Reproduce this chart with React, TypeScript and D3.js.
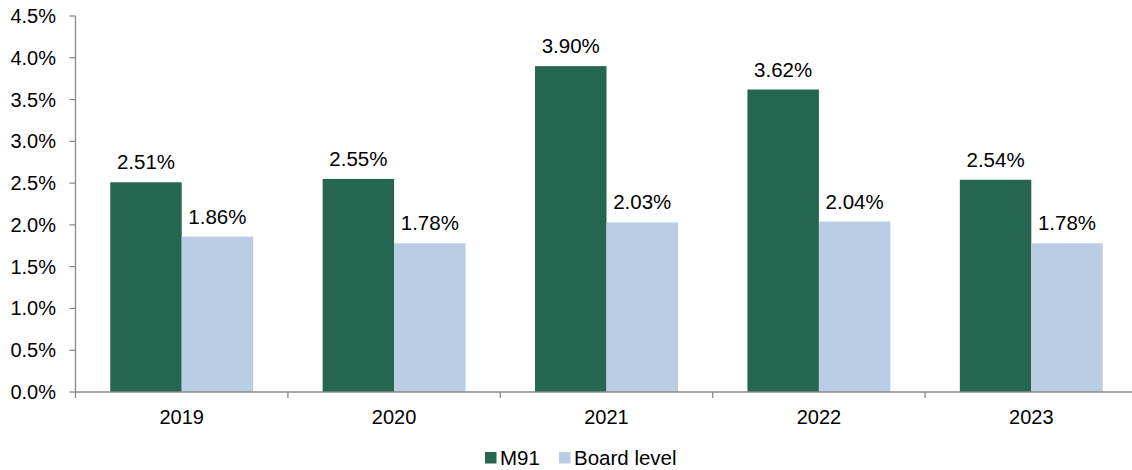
import React from "react";
import * as d3 from "d3";

const categories = ["2019", "2020", "2021", "2022", "2023"];
const m91 = [2.51, 2.55, 3.9, 3.62, 2.54];
const boardLevel = [1.86, 1.78, 2.03, 2.04, 1.78];
const yTicks = [0, 0.5, 1, 1.5, 2, 2.5, 3, 3.5, 4, 4.5];
const seriesNames = ["M91", "Board level"];
const colors = ["#256650", "#B9CDE4"];

const W = 1132;
const H = 470;
const left = 75.5;
const right = 1137.5;
const top = 16;
const bottom = 392;
const font = "Arial, 'Liberation Sans', sans-serif";

export default function App() {
  const x0 = d3.scaleBand<string>().domain(categories).range([left, right]);
  const y = d3.scaleLinear().domain([0, 4.5]).range([bottom, top]);
  const series = [m91, boardLevel];
  const axisColor = "#898989";
  const fsAxis = 20;
  const fsLab = 20.5;

  return (
    <svg width={W} height={H} style={{ position: "absolute", left: 0, top: 0 }} fontFamily={font}>
      <rect x={0} y={0} width={W} height={H} fill="#fff" />
      {categories.map((c, i) =>
        series.map((s, j) => {
          const bw = x0.bandwidth() * 0.3365;
          const bx = x0(c)! + x0.bandwidth() * 0.1635 + j * bw;
          return (
            <g key={c + j}>
              <rect x={bx} y={y(s[i])} width={bw} height={bottom - y(s[i])} fill={colors[j]} />
              <text x={bx + bw / 2} y={y(s[i]) - 13} textAnchor="middle" fontSize={fsLab} fill="#000">
                {s[i].toFixed(2) + "%"}
              </text>
            </g>
          );
        })
      )}
      {/* y axis */}
      <line x1={left} x2={left} y1={top} y2={bottom} stroke={axisColor} strokeWidth={1.3} />
      {yTicks.map((t) => (
        <g key={t}>
          <line x1={left - 6} x2={left} y1={y(t)} y2={y(t)} stroke={axisColor} strokeWidth={1.3} />
          <text x={56} y={y(t)} dy="0.35em" textAnchor="end" fontSize={fsAxis} fill="#000">
            {t.toFixed(1) + "%"}
          </text>
        </g>
      ))}
      {/* x axis */}
      <line x1={left} x2={right} y1={bottom} y2={bottom} stroke={axisColor} strokeWidth={1.3} />
      {categories.map((c) => (
        <g key={c}>
          <line x1={x0(c)!} x2={x0(c)!} y1={bottom} y2={bottom + 6} stroke={axisColor} strokeWidth={1.3} />
          <text x={x0(c)! + x0.bandwidth() / 2} y={424} textAnchor="middle" fontSize={fsAxis} fill="#000">
            {c}
          </text>
        </g>
      ))}
      {/* legend */}
      {seriesNames.map((n, j) => {
        const lx = [485, 559][j];
        return (
          <g key={n}>
            <rect x={lx} y={452} width={11.5} height={11.5} fill={colors[j]} />
            <text x={lx + 15} y={464.5} fontSize={fsLab} fill="#000">
              {n}
            </text>
          </g>
        );
      })}
    </svg>
  );
}
